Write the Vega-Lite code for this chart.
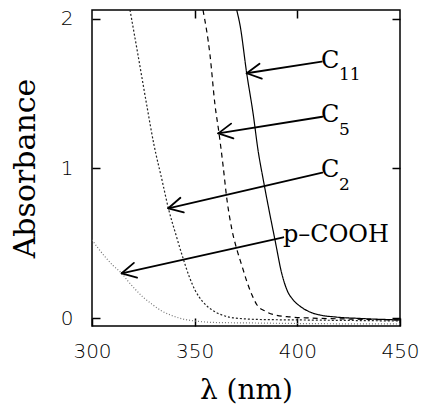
{
  "$schema": "https://vega.github.io/schema/vega-lite/v6.json",
  "width": 308,
  "height": 316,
  "autosize": {"type": "none"},
  "padding": {"left": 92, "top": 10, "right": 28, "bottom": 83},
  "background": "white",
  "config": {
    "view": {"stroke": "black", "strokeWidth": 1.5},
    "axis": {"grid": false, "domain": false, "tickColor": "black", "tickWidth": 1.5, "labelColor": "black", "titleColor": "black"}
  },
  "datasets": {
    "curves": [
      {"s": "C11", "lam": 370.47, "a": 2.06},
      {"s": "C11", "lam": 372.08, "a": 1.96},
      {"s": "C11", "lam": 375.34, "a": 1.637},
      {"s": "C11", "lam": 378.56, "a": 1.358},
      {"s": "C11", "lam": 380.84, "a": 1.124},
      {"s": "C11", "lam": 383.43, "a": 0.923},
      {"s": "C11", "lam": 386.2, "a": 0.723},
      {"s": "C11", "lam": 389.12, "a": 0.522},
      {"s": "C11", "lam": 392.39, "a": 0.299},
      {"s": "C11", "lam": 394.97, "a": 0.187},
      {"s": "C11", "lam": 398.04, "a": 0.12},
      {"s": "C11", "lam": 401.79, "a": 0.074},
      {"s": "C11", "lam": 406.17, "a": 0.04},
      {"s": "C11", "lam": 411.04, "a": 0.02},
      {"s": "C11", "lam": 418.35, "a": 0.007},
      {"s": "C11", "lam": 430.52, "a": -0.003},
      {"s": "C11", "lam": 450, "a": -0.013},
      {"s": "C5", "lam": 354.06, "a": 2.06},
      {"s": "C5", "lam": 357.47, "a": 1.759},
      {"s": "C5", "lam": 359.9, "a": 1.425},
      {"s": "C5", "lam": 361.85, "a": 1.237},
      {"s": "C5", "lam": 363.8, "a": 1.023},
      {"s": "C5", "lam": 365.75, "a": 0.789},
      {"s": "C5", "lam": 368.18, "a": 0.589},
      {"s": "C5", "lam": 370.62, "a": 0.455},
      {"s": "C5", "lam": 373.05, "a": 0.348},
      {"s": "C5", "lam": 375.49, "a": 0.241},
      {"s": "C5", "lam": 377.92, "a": 0.154},
      {"s": "C5", "lam": 380.36, "a": 0.087},
      {"s": "C5", "lam": 384.25, "a": 0.047},
      {"s": "C5", "lam": 389.12, "a": 0.02},
      {"s": "C5", "lam": 396.43, "a": 0.007},
      {"s": "C5", "lam": 406.17, "a": 0.0},
      {"s": "C5", "lam": 425.65, "a": -0.007},
      {"s": "C5", "lam": 450, "a": -0.013},
      {"s": "C2", "lam": 318.51, "a": 2.06},
      {"s": "C2", "lam": 322.4, "a": 1.759},
      {"s": "C2", "lam": 326.64, "a": 1.425},
      {"s": "C2", "lam": 330.2, "a": 1.157},
      {"s": "C2", "lam": 334.09, "a": 0.923},
      {"s": "C2", "lam": 337.16, "a": 0.736},
      {"s": "C2", "lam": 340.91, "a": 0.555},
      {"s": "C2", "lam": 344.32, "a": 0.401},
      {"s": "C2", "lam": 347.24, "a": 0.281},
      {"s": "C2", "lam": 350.16, "a": 0.187},
      {"s": "C2", "lam": 354.06, "a": 0.107},
      {"s": "C2", "lam": 358.44, "a": 0.054},
      {"s": "C2", "lam": 363.31, "a": 0.02},
      {"s": "C2", "lam": 369.64, "a": 0.0},
      {"s": "C2", "lam": 381.82, "a": -0.01},
      {"s": "C2", "lam": 401.3, "a": -0.013},
      {"s": "C2", "lam": 450, "a": -0.02},
      {"s": "pCOOH", "lam": 300, "a": 0.522},
      {"s": "pCOOH", "lam": 302.92, "a": 0.468},
      {"s": "pCOOH", "lam": 306.33, "a": 0.41},
      {"s": "pCOOH", "lam": 310.23, "a": 0.351},
      {"s": "pCOOH", "lam": 314.46, "a": 0.299},
      {"s": "pCOOH", "lam": 317.53, "a": 0.247},
      {"s": "pCOOH", "lam": 320.94, "a": 0.194},
      {"s": "pCOOH", "lam": 324.84, "a": 0.14},
      {"s": "pCOOH", "lam": 329.08, "a": 0.094},
      {"s": "pCOOH", "lam": 333.6, "a": 0.05},
      {"s": "pCOOH", "lam": 338.82, "a": 0.017},
      {"s": "pCOOH", "lam": 344.32, "a": -0.007},
      {"s": "pCOOH", "lam": 350.16, "a": -0.02},
      {"s": "pCOOH", "lam": 359.9, "a": -0.03},
      {"s": "pCOOH", "lam": 376.95, "a": -0.033},
      {"s": "pCOOH", "lam": 401.3, "a": -0.037},
      {"s": "pCOOH", "lam": 450, "a": -0.04}
    ],
    "arrows": [
      {"lam": 411.87, "a": 1.714, "lam2": 375.34, "a2": 1.637},
      {"lam": 375.34, "a": 1.637, "lam2": 382.7, "a2": 1.601},
      {"lam": 375.34, "a": 1.637, "lam2": 381.58, "a2": 1.701},
      {"lam": 412.16, "a": 1.346, "lam2": 361.51, "a2": 1.235},
      {"lam": 361.51, "a": 1.235, "lam2": 368.86, "a2": 1.201},
      {"lam": 361.51, "a": 1.235, "lam2": 367.74, "a2": 1.3},
      {"lam": 412.16, "a": 0.972, "lam2": 337.16, "a2": 0.734},
      {"lam": 337.16, "a": 0.734, "lam2": 344.71, "a2": 0.706},
      {"lam": 337.16, "a": 0.734, "lam2": 343.05, "a2": 0.804},
      {"lam": 393.17, "a": 0.54, "lam2": 314.46, "a2": 0.299},
      {"lam": 314.46, "a": 0.299, "lam2": 321.96, "a2": 0.27},
      {"lam": 314.46, "a": 0.299, "lam2": 320.41, "a2": 0.369}
    ],
    "labels": [
      {"t": "C", "lam": 411.5, "a": 1.719, "k": "main"},
      {"t": "11", "lam": 420.3, "a": 1.625, "k": "sub"},
      {"t": "C", "lam": 411.5, "a": 1.358, "k": "main"},
      {"t": "5", "lam": 420.3, "a": 1.258, "k": "sub"},
      {"t": "C", "lam": 411.5, "a": 0.99, "k": "main"},
      {"t": "2", "lam": 420.3, "a": 0.89, "k": "sub"},
      {"t": "p–COOH", "lam": 393.0, "a": 0.555, "k": "main"}
    ]
  },
  "layer": [
    {
      "data": {"name": "curves"},
      "mark": {"type": "line", "interpolate": "monotone", "clip": true},
      "encoding": {
        "x": {"field": "lam", "type": "quantitative",
          "scale": {"domain": [300, 450], "nice": false, "zero": false},
          "axis": {"orient": "bottom", "values": [300, 350, 400, 450], "format": "d", "tickSize": -8, "labelPadding": 23, "labelFlush": false,
            "labelFont": "DejaVu Sans", "labelFontSize": 20, "labelFontWeight": 200,
            "title": "λ (nm)", "titleFont": "DejaVu Serif", "titleFontSize": 28, "titleFontWeight": "normal", "titlePadding": 15}},
        "y": {"field": "a", "type": "quantitative",
          "scale": {"domain": [-0.0535, 2.06], "nice": false, "zero": false},
          "axis": {"orient": "left", "values": [0, 0.5, 1, 1.5, 2], "tickSize": -8, "labelPadding": 27, "labelOverlap": false, "labelFlush": false,
            "labelExpr": "datum.value == 0.5 || datum.value == 1.5 ? '' : format(datum.value, 'd')",
            "tickColor": {"condition": {"test": "datum.value == 0.5 || datum.value == 1.5", "value": "transparent"}, "value": "black"},
            "labelFont": "DejaVu Sans", "labelFontSize": 20, "labelFontWeight": 200,
            "title": "Absorbance", "titleFont": "DejaVu Serif", "titleFontSize": 30, "titleFontWeight": "normal", "titlePadding": 20}},
        "detail": {"field": "s"},
        "color": {"field": "s", "type": "nominal", "legend": null,
          "scale": {"domain": ["C11", "C5", "C2", "pCOOH"], "range": ["#000000", "#000000", "#222222", "#777777"]}},
        "strokeDash": {"field": "s", "type": "nominal", "legend": null,
          "scale": {"domain": ["C11", "C5", "C2", "pCOOH"], "range": [[1, 0], [5, 4], [2, 2], [1, 2]]}},
        "strokeWidth": {"value": 1.2}
      }
    },
    {
      "data": {"name": "curves"},
      "mark": {"type": "point", "opacity": 0},
      "encoding": {
        "x": {"field": "lam", "type": "quantitative",
          "scale": {"domain": [300, 450], "nice": false, "zero": false},
          "axis": {"orient": "top", "values": [350, 400], "tickSize": -8, "labels": false, "title": null}},
        "y": {"field": "a", "type": "quantitative",
          "scale": {"domain": [-0.0535, 2.06], "nice": false, "zero": false},
          "axis": {"orient": "right", "values": [0, 1, 2], "tickSize": -8, "labels": false, "title": null}}
      }
    },
    {
      "data": {"name": "arrows"},
      "mark": {"type": "rule", "color": "black", "strokeWidth": 1.8, "strokeCap": "round"},
      "encoding": {
        "x": {"field": "lam", "type": "quantitative", "axis": null},
        "y": {"field": "a", "type": "quantitative", "axis": null},
        "x2": {"field": "lam2"},
        "y2": {"field": "a2"}
      }
    },
    {
      "data": {"name": "labels"},
      "transform": [{"filter": "datum.k == 'main'"}],
      "mark": {"type": "text", "align": "left", "baseline": "middle", "font": "DejaVu Serif", "fontSize": 24, "color": "black"},
      "encoding": {
        "x": {"field": "lam", "type": "quantitative", "axis": null},
        "y": {"field": "a", "type": "quantitative", "axis": null},
        "text": {"field": "t"}
      }
    },
    {
      "data": {"name": "labels"},
      "transform": [{"filter": "datum.k == 'sub'"}],
      "mark": {"type": "text", "align": "left", "baseline": "middle", "font": "DejaVu Serif", "fontSize": 17, "color": "black"},
      "encoding": {
        "x": {"field": "lam", "type": "quantitative", "axis": null},
        "y": {"field": "a", "type": "quantitative", "axis": null},
        "text": {"field": "t"}
      }
    }
  ],
  "resolve": {"axis": {"x": "independent", "y": "independent"}}
}
